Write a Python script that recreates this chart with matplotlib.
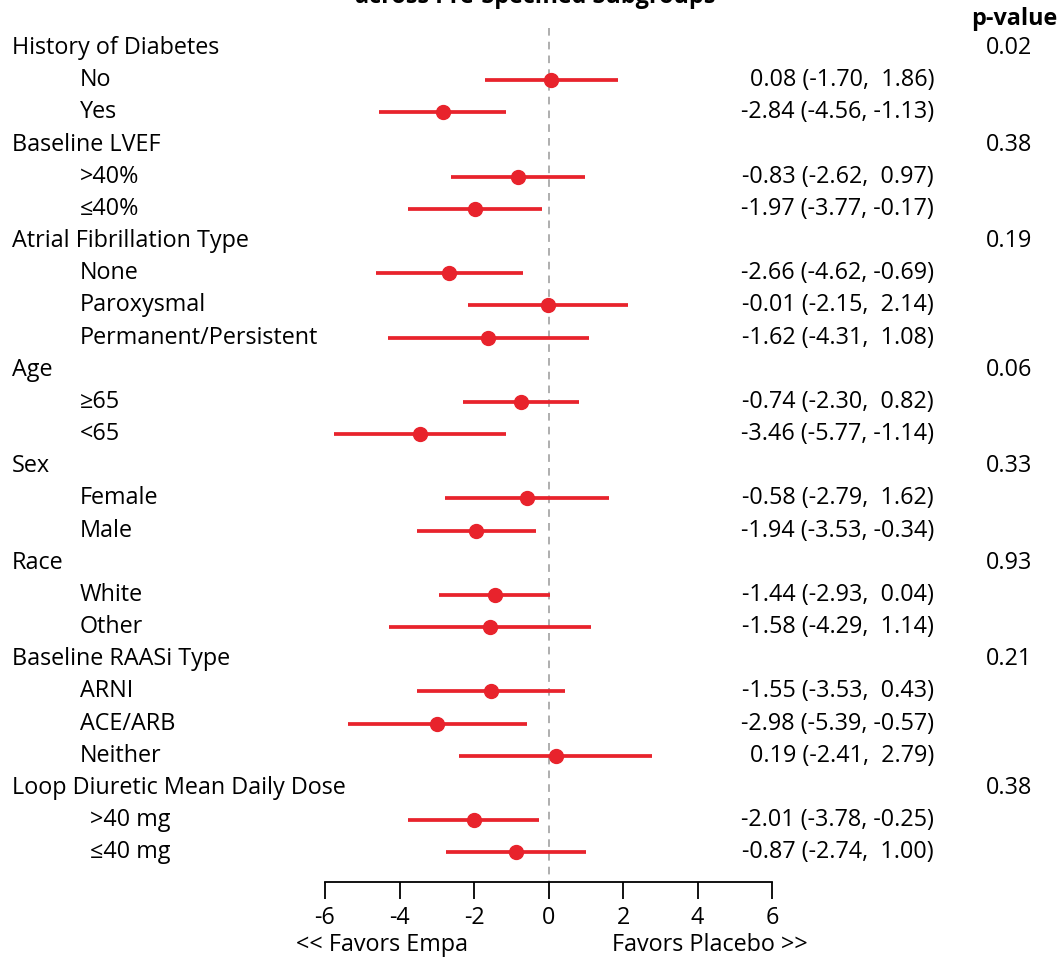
import matplotlib.pyplot as plt

plt.rcParams['font.family'] = ['Open Sans', 'DejaVu Sans']

# subgroup rows, top to bottom
labels = ['History of Diabetes', 'No', 'Yes',
          'Baseline LVEF', '>40%', '\u226440%',
          'Atrial Fibrillation Type', 'None', 'Paroxysmal', 'Permanent/Persistent',
          'Age', '\u226565', '<65',
          'Sex', 'Female', 'Male',
          'Race', 'White', 'Other',
          'Baseline RAASi Type', 'ARNI', 'ACE/ARB', 'Neither',
          'Loop Diuretic Mean Daily Dose', '>40 mg', '\u226440 mg']
heading = [True, False, False,
           True, False, False,
           True, False, False, False,
           True, False, False,
           True, False, False,
           True, False, False,
           True, False, False, False,
           True, False, False]
est = [None, 0.08, -2.84,
       None, -0.83, -1.97,
       None, -2.66, -0.01, -1.62,
       None, -0.74, -3.46,
       None, -0.58, -1.94,
       None, -1.44, -1.58,
       None, -1.55, -2.98, 0.19,
       None, -2.01, -0.87]
lo = [None, -1.70, -4.56,
      None, -2.62, -3.77,
      None, -4.62, -2.15, -4.31,
      None, -2.30, -5.77,
      None, -2.79, -3.53,
      None, -2.93, -4.29,
      None, -3.53, -5.39, -2.41,
      None, -3.78, -2.74]
hi = [None, 1.86, -1.13,
      None, 0.97, -0.17,
      None, -0.69, 2.14, 1.08,
      None, 0.82, -1.14,
      None, 1.62, -0.34,
      None, 0.04, 1.14,
      None, 0.43, -0.57, 2.79,
      None, -0.25, 1.00]
pvals = ['0.02', None, None,
         '0.38', None, None,
         '0.19', None, None, None,
         '0.06', None, None,
         '0.33', None, None,
         '0.93', None, None,
         '0.21', None, None, None,
         '0.38', None, None]
xticks = [-6, -4, -2, 0, 2, 4, 6]

W, H = 1060, 963
fig = plt.figure(figsize=(W / 100, H / 100), dpi=100)

# axes: x from -6..6 spans px 325..772, bottom spine at px 882
x0, x1, ybot = 325, 772, 882
ax = fig.add_axes([x0 / W, 1 - ybot / H, (x1 - x0) / W, ybot / H])
row_h, row0 = 32.17, 48
ax.set_xlim(-6, 6)
ax.set_ylim((ybot - row0) / row_h, -row0 / row_h)

red = '#e8232c'
fs = 16.8
for i, lab in enumerate(labels):
    ypos = 1 - (row0 + row_h * i) / H
    if heading[i]:
        fig.text(12 / W, ypos, lab, fontsize=fs, va='center', ha='left')
    else:
        xind = 90 if 'mg' in lab else 80
        fig.text(xind / W, ypos, lab, fontsize=fs, va='center', ha='left')
        ax.plot([lo[i], hi[i]], [i, i], color=red, lw=2.7, solid_capstyle='butt')
        ax.plot(est[i], i, 'o', color=red, ms=10)
        txt = f'{est[i]:.2f} ({lo[i]:.2f}, {hi[i]:5.2f})'
        fig.text(934 / W, ypos, txt, fontsize=fs, va='center', ha='right')
    if pvals[i]:
        fig.text(1009 / W, ypos, pvals[i], fontsize=fs, va='center', ha='center')

# reference line at zero
ax.plot([0, 0], [-0.62, (ybot - row0) / row_h], color='#999999', lw=1.1,
        ls=(0, (5, 4)), zorder=0, clip_on=False)

for s in ['top', 'left', 'right']:
    ax.spines[s].set_visible(False)
ax.spines['bottom'].set_linewidth(1.3)
ax.spines['bottom'].set_bounds(-6, 6)
ax.set_yticks([])
ax.set_xticks(xticks)
ax.set_xticklabels([str(t) for t in xticks], fontsize=fs)
ax.tick_params(axis='x', direction='out', length=12, width=1.3, pad=5)
ax.patch.set_visible(False)

fig.text(296 / W, 1 - 945 / H, '<< Favors Empa', fontsize=fs, va='center', ha='left')
fig.text(808 / W, 1 - 945 / H, 'Favors Placebo >>', fontsize=fs, va='center', ha='right')

fig.text(1014 / W, 1 - 19 / H, 'p-value', fontsize=fs, fontweight='bold',
         va='center', ha='center')
fig.text(535 / W, 1 - 3 / H, 'across Pre-Specified Subgroups', fontsize=fs,
         fontweight='bold', va='baseline', ha='center')

fig.savefig('out.png', dpi=100, facecolor='white')
